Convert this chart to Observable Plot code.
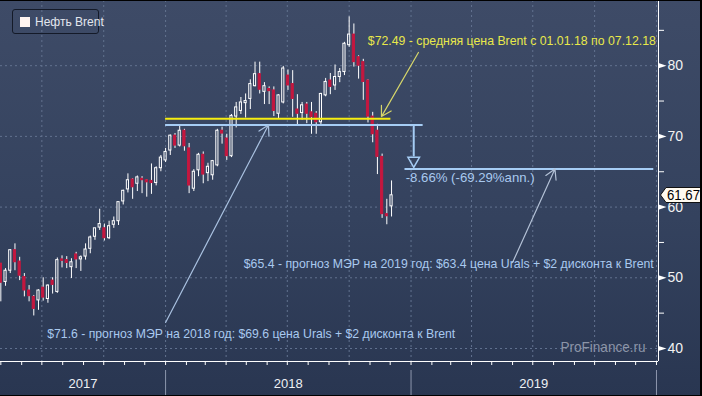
<!DOCTYPE html>
<html><head><meta charset="utf-8">
<script src="https://cdn.jsdelivr.net/npm/d3@7"></script>
<script src="https://cdn.jsdelivr.net/npm/@observablehq/plot@0.6"></script>
<style>
html,body{margin:0;padding:0;background:#2a3752;}
#wrap{position:relative;width:702px;height:396px;overflow:hidden;}
#wrap svg{display:block;}
#frameLine{position:absolute;left:0;top:0;width:702px;height:396px;box-sizing:border-box;border-top:1px solid #000;border-right:2px solid #000;border-bottom:1px solid #000;pointer-events:none;}
#legend{position:absolute;left:12px;top:9px;width:87px;height:25px;box-sizing:border-box;border:1px solid #141a28;border-radius:3px;font:12px "Liberation Sans",Arial,sans-serif;color:#e2e6ee;}
#legend .sw{position:absolute;left:7px;top:7px;width:10px;height:10px;background:#fff4f0;}
#legend .lb{position:absolute;left:22px;top:5px;white-space:nowrap;}
#tag{position:absolute;left:660px;width:42px;height:16px;}
#tag svg{overflow:visible}
</style></head>
<body>
<div id="wrap"></div>
<script>
// ---- Weekly Brent candles (week start, Monday) ----
const weekStart = "2017-05-01", weekEnd = "2018-12-04";
const open  = [52.0,49.4,51.0,53.9,52.3,50.1,48.2,47.3,46.8,48.6,47.0,49.6,48.0,52.6,52.5,51.5,53.3,52.6,53.0,54.1,55.8,57.1,57.0,55.6,57.5,58.0,60.8,62.5,63.9,63.3,64.0,63.8,63.7,63.4,65.5,
               66.6,68.0,70.1,68.7,70.8,68.3,62.6,65.2,67.4,64.8,64.5,65.9,70.8,69.7,67.2,72.8,73.6,74.7,75.3,77.1,78.8,76.3,76.7,76.5,73.2,74.8,78.6,77.4,73.8,73.3,74.5,73.4,73.2,72.0,75.8,77.9,77.2,78.4,79.1,82.9,84.4,81.2,80.5,77.9,72.8,70.8,67.1,59.0,60.1];
const high  = [51.9,51.3,54.0,54.8,52.9,50.6,48.9,47.5,48.3,50.0,49.0,50.0,52.8,53.1,53.0,52.7,53.6,53.1,54.8,55.9,57.0,59.7,57.6,58.0,58.6,60.7,62.4,64.7,64.0,64.4,64.3,63.9,66.1,65.7,67.3,
               68.3,70.2,70.4,71.5,71.0,69.0,65.3,67.6,67.8,66.2,66.6,71.0,71.3,70.3,73.1,74.8,75.5,76.0,78.0,80.5,80.5,77.6,77.0,77.0,75.9,79.9,79.4,79.3,75.9,74.8,74.8,74.8,73.5,76.1,78.2,78.9,80.1,79.6,83.3,86.9,85.9,81.4,80.9,78.0,73.4,71.7,67.5,61.1,63.7];
const low   = [46.6,48.8,50.6,51.0,49.6,47.3,46.6,44.6,45.4,46.7,46.4,47.7,47.8,51.4,51.3,49.9,51.3,50.9,52.5,53.4,55.3,56.7,55.2,55.4,57.0,57.4,60.3,62.0,61.1,62.2,61.9,61.4,61.8,63.0,65.0,
               66.3,67.3,68.3,68.5,67.9,61.9,62.2,64.3,63.3,63.6,63.8,65.7,68.9,66.6,67.0,71.2,73.1,72.6,73.8,77.0,76.0,74.5,74.5,72.8,72.4,74.6,76.5,72.7,71.6,72.3,71.8,70.3,70.3,71.6,75.6,75.9,76.5,77.6,78.6,82.6,79.8,78.1,75.1,71.9,69.1,64.6,58.4,57.5,58.6];
const close = [49.3,51.0,53.9,52.2,50.3,48.2,47.4,45.6,48.2,47.2,48.9,49.0,52.5,52.4,52.1,52.2,52.6,52.9,54.0,55.7,57.0,57.6,55.6,57.3,58.0,60.7,62.3,63.8,62.8,64.2,63.8,63.5,63.4,65.5,67.0,
               67.8,70.1,68.7,70.8,68.6,63.05,65.0,67.4,64.6,65.7,66.5,70.8,70.4,67.2,72.9,74.1,74.8,75.0,77.4,78.8,76.6,77.1,76.4,73.6,75.8,79.6,77.2,75.3,73.2,74.4,73.2,72.7,72.0,76.0,77.7,77.0,78.4,79.1,83.1,84.4,80.5,80.0,77.7,72.8,70.3,67.1,59.0,58.7,61.67];

// ---- axes ----
const yTicks = [40, 50, 60, 70, 80];
const yMinorTicks = [45, 55, 65, 75, 85];
const yearLabels = ["2017", "2018", "2019"];
const xDomain = [new Date("2017-04-30T12:00Z"), new Date("2020-01-04T00:00Z")];
const yDomain = [38.16, 89.22];

// ---- annotations ----
const avgLevel = [72.49];           const avgSpan = ["2018-01-01", "2018-12-02"];
const forecast2018 = [71.6];        const f2018Span = ["2018-01-01", "2019-01-19"];
const forecast2019 = [65.4];        const f2019Span = ["2018-12-23", "2019-12-28"];
const dropArrowDate = ["2019-01-05"];
const avgText = "$72.49 - средняя цена Brent с 01.01.18 по 07.12.18";
const changeText = "-8.66% (-69.29%ann.)";
const f2018Text = "$71.6 - прогноз МЭР на 2018 год: $69.6 цена Urals + $2 дисконта к Brent";
const f2019Text = "$65.4 - прогноз МЭР на 2019 год: $63.4 цена Urals + $2 дисконта к Brent";
const startTexts = [
  {text: avgText,    date: "2018-10-28T18:00Z", value: 83.56, color: "#e8e84a"},
  {text: changeText, date: "2018-12-24",        value: 64.2,  color: "#a9c9ef"},
  {text: f2018Text,  date: "2017-07-09",        value: 42.12, color: "#a9c9ef"}
];
const endTexts = [
  {text: f2019Text,  date: "2019-12-28",        value: 52.02, color: "#a9c9ef"}
];
const arrows = [
  {d1: "2019-01-12", v1: 81.87, d2: "2018-11-18", v2: 72.8,  color: "#d6d66a"},
  {d1: "2018-01-01", v1: 43.68, d2: "2018-06-03", v2: 71.6,  color: "#a9c1e0"},
  {d1: "2019-06-01", v1: 52.16, d2: "2019-08-03", v2: 65.4,  color: "#b3c1d6"}
];
const lastPrice = close[close.length - 1];
const watermark = "ProFinance.ru";
// rendered widths (px) of the condensed texts in the reference
const textWidths = new Map([[avgText, 288], [changeText, 129], [f2018Text, 408], [f2019Text, 410], [watermark, 85]]);

// ---- build ----
const dates = d3.utcMonday.range(new Date(weekStart), new Date(weekEnd));
const rows = dates.map((date, i) => ({date, o: open[i], h: high[i], l: low[i], c: close[i]}));
const up = rows.filter(d => d.c >= d.o);
const down = rows.filter(d => d.c < d.o);
const P = s => new Date(s);
const quarterLines = d3.utcMonth.range(xDomain[0], xDomain[1]).filter(d => d.getUTCMonth() % 3 === 0);
const monthTicks = d3.utcMonth.range(xDomain[0], xDomain[1]);
const yearRows = yearLabels.map(y => {
  const a = Math.max(+new Date(`${y}-01-01`), +xDomain[0]);
  const b = Math.min(+new Date(`${+y + 1}-01-01`), +xDomain[1]);
  return {label: y, mid: new Date((a + b) / 2)};
});
const yearSeps = yearLabels.map(y => new Date(`${+y + 1}-01-01`));

const red = "#c5173f", white = "#ffffff", grid = "#62728f";
const font = '"Liberation Sans",Arial,sans-serif';
const triSym = {draw(ctx) { ctx.moveTo(-4, -2.6); ctx.lineTo(4, 0); ctx.lineTo(-4, 2.6); ctx.closePath(); }};
const dayMs = 864e5;

const chart = Plot.plot({
  width: 702, height: 396,
  marginLeft: 0, marginRight: 44, marginTop: 0, marginBottom: 35,
  style: {background: "linear-gradient(#3e4b67 0%, #34425e 55%, #293651 100%)", fontFamily: font, overflow: "visible"},
  x: {type: "utc", domain: xDomain},
  y: {domain: yDomain},
  marks: [
    Plot.ruleY(yTicks, {stroke: grid, strokeDasharray: "2,3"}),
    Plot.ruleX(quarterLines, {stroke: grid, strokeDasharray: "2,3"}),
    // candles
    Plot.ruleX(rows, {x: "date", y1: "h", y2: d => Math.max(d.o, d.c), stroke: white, strokeWidth: 1}),
    Plot.ruleX(rows, {x: "date", y1: d => Math.min(d.o, d.c), y2: "l", stroke: white, strokeWidth: 1}),
    Plot.rect(up, {x1: d => new Date(+d.date - 1.6 * dayMs), x2: d => new Date(+d.date + 1.6 * dayMs), y1: "o", y2: "c", fill: "none", stroke: white, strokeWidth: 1}),
    Plot.rect(down, {x1: d => new Date(+d.date - 1.6 * dayMs), x2: d => new Date(+d.date + 1.6 * dayMs), y1: "o", y2: "c", fill: red, stroke: red, strokeWidth: 1}),
    // annotation levels
    Plot.ruleY(forecast2018, {x1: P(f2018Span[0]), x2: P(f2018Span[1]), stroke: "#a6cdf5", strokeWidth: 2}),
    Plot.ruleY(avgLevel, {x1: P(avgSpan[0]), x2: P(avgSpan[1]), stroke: "#f6ee10", strokeWidth: 2}),
    Plot.ruleY(forecast2019, {x1: P(f2019Span[0]), x2: P(f2019Span[1]), stroke: "#a6cdf5", strokeWidth: 2}),
    Plot.ruleX(dropArrowDate.map(P), {y1: forecast2018[0], y2: forecast2019[0], insetBottom: 12, stroke: "#a6cdf5", strokeWidth: 2}),
    Plot.dot(dropArrowDate.map(P), {x: d => d, y: forecast2019[0], symbol: "triangle", rotate: 180, r: 4.3, dy: -8.2, fill: "none", stroke: "#a6cdf5", strokeWidth: 1.5}),
    Plot.arrow(arrows, {x1: d => P(d.d1), y1: "v1", x2: d => P(d.d2), y2: "v2", stroke: d => d.color, strokeWidth: 1.2, headLength: 14, headAngle: 60}),
    Plot.text(startTexts, {x: d => P(d.date), y: "value", text: "text", textAnchor: "start", fill: d => d.color, fontSize: 13, lineAnchor: "middle"}),
    Plot.text(endTexts, {x: d => P(d.date), y: "value", text: "text", textAnchor: "end", fill: d => d.color, fontSize: 13, lineAnchor: "middle"}),
    Plot.text([watermark], {frameAnchor: "bottom-right", dx: -13, dy: -14, textAnchor: "end", lineAnchor: "middle", fill: "#8c95a8", fontSize: 15}),
    // axes
    Plot.ruleY([yDomain[0]], {stroke: white}),
    Plot.ruleX([xDomain[1]], {stroke: white}),
    Plot.axisX({ticks: monthTicks, tickSize: 4, tickFormat: () => "", stroke: white}),
    Plot.ruleX(yearSeps, {y1: yDomain[0], y2: yDomain[0], insetTop: 9, insetBottom: -35, stroke: "#8d97ad"}),
    Plot.text(yearRows, {x: "mid", text: "label", frameAnchor: "bottom", dy: 22, lineAnchor: "middle", fill: "#eef0f4", fontSize: 13}),
    Plot.axisY({anchor: "right", ticks: yMinorTicks, tickSize: 5, tickFormat: () => "", stroke: white}),
    Plot.axisY({anchor: "right", ticks: yTicks, tickSize: 0, tickPadding: 9, fontSize: 14, fill: "#f2f2f2"}),
    Plot.dot(yTicks, {y: d => d, frameAnchor: "right", dx: 4, symbol: triSym, fill: white, stroke: "none"})
  ]
});
// condense annotation texts to the reference widths
d3.select(chart).selectAll("text").each(function() {
  const w = textWidths.get(this.textContent);
  if (w) { this.setAttribute("textLength", w); this.setAttribute("lengthAdjust", "spacingAndGlyphs"); }
});
const wrap = document.getElementById("wrap");
wrap.appendChild(chart);

// price tag
const ty = chart.scale("y").apply(lastPrice);
const tag = document.createElement("div");
tag.id = "tag";
tag.style.top = (ty - 8) + "px";
tag.innerHTML = `<svg width="42" height="16"><path d="M0.5,8 L6,0.5 H44 V15.5 H6 Z" fill="#fffaf0" stroke="#111" stroke-width="1"/><text x="7" y="12.5" font-family='${font}' font-size="14" textLength="33" lengthAdjust="spacingAndGlyphs" fill="#000">${lastPrice.toFixed(2)}</text></svg>`;
wrap.appendChild(tag);

// legend
const lg = document.createElement("div");
lg.id = "legend";
lg.innerHTML = `<div class="sw"></div><div class="lb">Нефть Brent</div>`;
wrap.appendChild(lg);

const fl = document.createElement("div");
fl.id = "frameLine";
wrap.appendChild(fl);
</script>
</body></html>
